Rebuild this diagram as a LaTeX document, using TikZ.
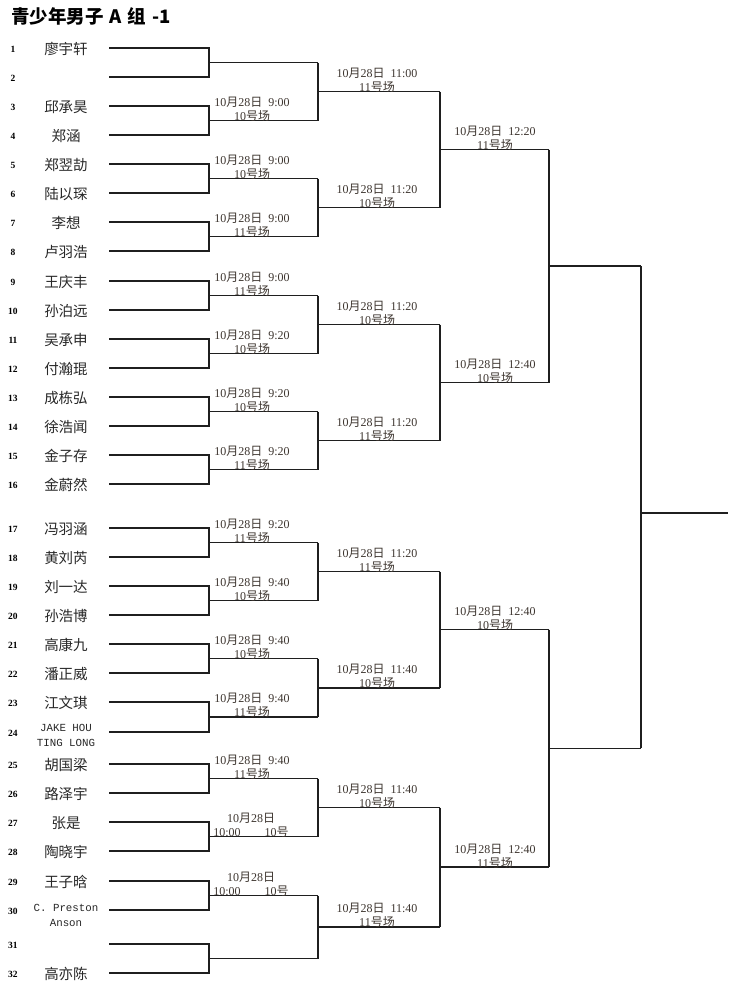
\documentclass[tikz,border=0pt]{standalone}
\usepackage{fontspec}
\setmainfont{Liberation Serif}
\newfontfamily\cjk{Noto Sans CJK SC}
\newfontfamily\monof{Liberation Mono}
\usetikzlibrary{calc}
\definecolor{ink}{RGB}{40,40,40}
\definecolor{labc}{RGB}{62,54,48}
\newcommand\mlab[2]{10{\cjk 月}28{\cjk 日}\hspace{6pt}#1\\#2{\cjk 号场}}
\begin{document}
\begin{tikzpicture}[x=1pt,y=-1pt,
  br/.style={draw=black!88,line width=1.7pt},
  nm/.style={inner sep=0pt,text=ink,font=\cjk\fontsize{14.5}{16}\selectfont},
  nmlat/.style={inner sep=0pt,text=ink,align=center,font=\monof\fontsize{10.8}{15}\selectfont},
  num/.style={inner sep=0pt,text=black,font=\bfseries\fontsize{9.5}{11}\selectfont},
  lab/.style={anchor=south,inner sep=0pt,align=center,text=labc,font=\fontsize{12}{14}\selectfont},
  ttl/.style={anchor=west,inner sep=0pt,text=black,font=\cjk\bfseries\fontsize{18.5}{21}\selectfont}]
\useasboundingbox[fill=white] (0,0) rectangle (734,989);

\node[ttl] (title) at (11,16) {青少年男子\hspace{6pt}A\hspace{6pt}组\hspace{6pt}-1};

% players
\foreach \i/\y/\n in {1/48/廖宇轩,2/77/,3/106/邱承昊,4/135/郑涵,5/164/郑翌劼,6/193/陆以琛,7/222/李想,8/251/卢羽浩,
  9/281/王庆丰,10/310/孙泊远,11/339/吴承申,12/368/付瀚琨,13/397/成栋弘,14/426/徐浩闻,15/455/金子存,16/484/金蔚然,
  17/528/冯羽涵,18/557/黄刘芮,19/586/刘一达,20/615/孙浩博,21/644/高康九,22/673/潘正威,23/702/江文琪,24/732/,
  25/764/胡国梁,26/793/路泽宇,27/822/张是,28/851/陶晓宇,29/881/王子晗,30/910/,31/944/,32/973/高亦陈}{
  \coordinate (p\i) at (109,\y);
  \coordinate (q\i) at (209,\y);
  \node[num] (k\i) at (13,\y+1) {\i};
  \node[nm] (n\i) at (66,\y+1) {\n};
}
\node[nmlat] (n24x) at (66,735) {JAKE HOU\\TING LONG};
\node[nmlat] (n30x) at (66,915) {C. Preston\\Anson};

% round 1
\foreach \k in {1,...,16}{
  \pgfmathtruncatemacro\a{2*\k-1}
  \pgfmathtruncatemacro\b{2*\k}
  \draw[br] (p\a) -- (q\a) -- (q\b) -- (p\b);
  \coordinate (r1-\k) at ($(q\a)!0.5!(q\b)+(109,0)$);
  \draw[br] ($(q\a)!0.5!(q\b)$) -- (r1-\k);
}
% round 2
\foreach \k in {1,...,8}{
  \pgfmathtruncatemacro\a{2*\k-1}
  \pgfmathtruncatemacro\b{2*\k}
  \draw[br] (r1-\a) -- (r1-\b);
  \coordinate (r2-\k) at ($(r1-\a)!0.5!(r1-\b)+(122,0)$);
  \draw[br] ($(r1-\a)!0.5!(r1-\b)$) -- (r2-\k);
}
% round 3
\foreach \k in {1,...,4}{
  \pgfmathtruncatemacro\a{2*\k-1}
  \pgfmathtruncatemacro\b{2*\k}
  \draw[br] (r2-\a) -- (r2-\b);
  \coordinate (r3-\k) at ($(r2-\a)!0.5!(r2-\b)+(109,0)$);
  \draw[br] ($(r2-\a)!0.5!(r2-\b)$) -- (r3-\k);
}
% round 4
\foreach \k in {1,2}{
  \pgfmathtruncatemacro\a{2*\k-1}
  \pgfmathtruncatemacro\b{2*\k}
  \draw[br] (r3-\a) -- (r3-\b);
  \coordinate (r4-\k) at ($(r3-\a)!0.5!(r3-\b)+(92,0)$);
  \draw[br] ($(r3-\a)!0.5!(r3-\b)$) -- (r4-\k);
}
% final
\coordinate (fin) at (728,513);
\draw[br] (r4-1) -- (r4-2);
\draw[br] (r4-1 |- fin) -- (fin);

% labels round 1
\foreach \k/\t/\v in {2/9:00/10,3/9:00/10,4/9:00/11,5/9:00/11,6/9:20/10,7/9:20/10,8/9:20/11,9/9:20/11,
  10/9:40/10,11/9:40/10,12/9:40/11,13/9:40/11}{
  \node[lab] (l1-\k) at ($(r1-\k)+(-66,1)$) {\mlab{\t}{\v}};
}
\foreach \k in {14,15}{
  \node[lab] (l1-\k) at ($(r1-\k)+(-67,1)$) {10{\cjk 月}28{\cjk 日}\\10:00\hspace{24pt}10{\cjk 号}};
}
% labels round 2
\foreach \k/\t/\v in {1/11:00/11,2/11:20/10,3/11:20/10,4/11:20/11,5/11:20/11,6/11:40/10,7/11:40/10,8/11:40/11}{
  \node[lab] (l2-\k) at ($(r2-\k)+(-63,1)$) {\mlab{\t}{\v}};
}
% labels round 3
\foreach \k/\t/\v in {1/12:20/11,2/12:40/10,3/12:40/10,4/12:40/11}{
  \node[lab] (l3-\k) at ($(r3-\k)+(-54,1)$) {\mlab{\t}{\v}};
}
\end{tikzpicture}
\end{document}
